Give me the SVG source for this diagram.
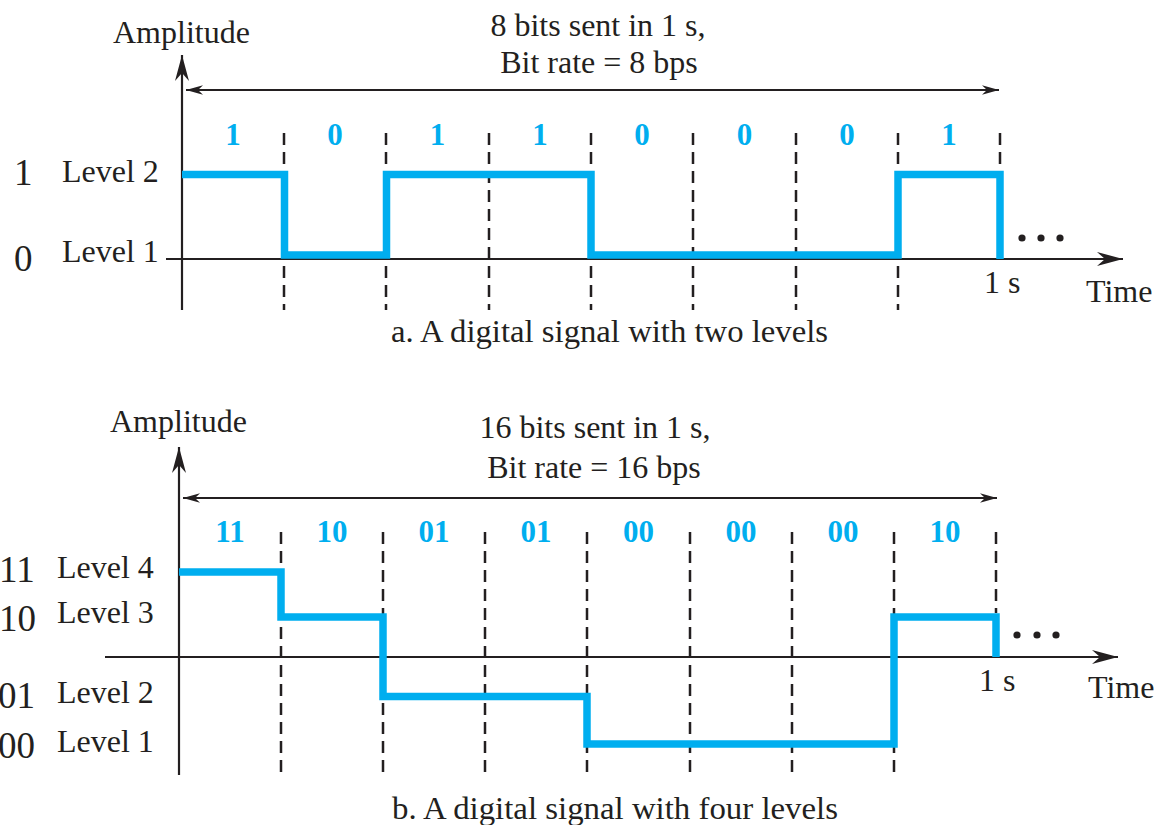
<svg xmlns="http://www.w3.org/2000/svg" width="1157" height="825" viewBox="0 0 1157 825">
<style>
text{font-family:"Liberation Serif","Times New Roman",serif;fill:#231f20;font-size:32px}
.big{font-size:37px}
.bit{font-weight:bold;fill:#00aeef;font-size:31px;text-anchor:middle}
.mid{text-anchor:middle}
.axis{stroke:#231f20;stroke-width:2.2;fill:none}
.span{stroke:#231f20;stroke-width:2;fill:none}
.dash{stroke:#231f20;stroke-width:2.5;stroke-dasharray:12 7;fill:none}
.sig{stroke:#00aeef;stroke-width:7.5;fill:none;stroke-linejoin:miter;stroke-linecap:butt}
.dot{fill:#231f20}
</style>
<defs>
<marker id="axisHead" markerUnits="userSpaceOnUse" markerWidth="30" markerHeight="18" viewBox="-27 -9 30 18" refX="0" refY="0" orient="auto">
<path d="M0,0 L-26,-7 L-18,0 L-26,7 Z" fill="#231f20"/>
</marker>
<marker id="spanHead" markerUnits="userSpaceOnUse" markerWidth="22" markerHeight="12" viewBox="-19 -6 22 12" refX="0" refY="0" orient="auto-start-reverse">
<path d="M0,0 L-17,-4.8 L-12,0 L-17,4.8 Z" fill="#231f20"/>
</marker>
</defs>
<rect width="1157" height="825" fill="#ffffff"/>

<!-- Panel a -->
<g id="panel-a">
<g id="a-grid">
<line class="dash" x1="284" y1="133" x2="284" y2="310"/>
<line class="dash" x1="386" y1="133" x2="386" y2="310"/>
<line class="dash" x1="489" y1="133" x2="489" y2="310"/>
<line class="dash" x1="591" y1="133" x2="591" y2="310"/>
<line class="dash" x1="693" y1="133" x2="693" y2="310"/>
<line class="dash" x1="796" y1="133" x2="796" y2="310"/>
<line class="dash" x1="898" y1="133" x2="898" y2="310"/>
<line class="dash" x1="1000" y1="133" x2="1000" y2="171"/>
</g>
<g id="a-axes">
<line class="axis" x1="182" y1="310" x2="182" y2="55" marker-end="url(#axisHead)"/>
<line class="axis" x1="166" y1="259" x2="1123" y2="259" marker-end="url(#axisHead)"/>
</g>
<g id="a-signal">
<polyline class="sig" points="182,174.5 284.5,174.5 284.5,255 386.5,255 386.5,174.5 591,174.5 591,255 898,255 898,174.5 1000,174.5 1000,259"/>
</g>
<g id="a-bits">
<text class="bit" x="233" y="145">1</text>
<text class="bit" x="335" y="145">0</text>
<text class="bit" x="437.5" y="145">1</text>
<text class="bit" x="540" y="145">1</text>
<text class="bit" x="642" y="145">0</text>
<text class="bit" x="744.5" y="145">0</text>
<text class="bit" x="847" y="145">0</text>
<text class="bit" x="949" y="145">1</text>
</g>
<g id="a-labels">
<text x="113" y="43">Amplitude</text>
<text class="mid" x="598" y="36">8 bits sent in 1 s,</text>
<text class="mid" x="599" y="73">Bit rate = 8 bps</text>
<text class="big" x="14" y="185">1</text>
<text x="62" y="182">Level 2</text>
<text class="big" x="14" y="271">0</text>
<text x="62" y="262">Level 1</text>
<text x="984" y="293">1 s</text>
<text x="1086" y="302">Time</text>
<text x="391" y="342" textLength="437" lengthAdjust="spacingAndGlyphs">a. A digital signal with two levels</text>
</g>
<g id="a-dots">
<circle class="dot" cx="1022" cy="238" r="3.6"/>
<circle class="dot" cx="1041" cy="238" r="3.6"/>
<circle class="dot" cx="1060" cy="238" r="3.6"/>
</g>
</g>

<!-- Panel b -->
<g id="panel-b">
<g id="b-grid">
<line class="dash" x1="281" y1="532" x2="281" y2="775"/>
<line class="dash" x1="383" y1="532" x2="383" y2="775"/>
<line class="dash" x1="485" y1="532" x2="485" y2="775"/>
<line class="dash" x1="587" y1="532" x2="587" y2="775"/>
<line class="dash" x1="690" y1="532" x2="690" y2="775"/>
<line class="dash" x1="792" y1="532" x2="792" y2="775"/>
<line class="dash" x1="894" y1="532" x2="894" y2="775"/>
<line class="dash" x1="996" y1="532" x2="996" y2="613"/>
</g>
<g id="b-axes">
<line class="axis" x1="179" y1="775" x2="179" y2="447" marker-end="url(#axisHead)"/>
<line class="axis" x1="105" y1="657" x2="1118" y2="657" marker-end="url(#axisHead)"/>
</g>
<g id="b-signal">
<polyline class="sig" points="179,572 281,572 281,617 383,617 383,696.5 587,696.5 587,744 894,744 894,617 996,617 996,657"/>
</g>
<g id="b-bits">
<text class="bit" x="230" y="542">11</text>
<text class="bit" x="332" y="542">10</text>
<text class="bit" x="434" y="542">01</text>
<text class="bit" x="536" y="542">01</text>
<text class="bit" x="638.5" y="542">00</text>
<text class="bit" x="741" y="542">00</text>
<text class="bit" x="843" y="542">00</text>
<text class="bit" x="945" y="542">10</text>
</g>
<g id="b-labels">
<text x="110" y="432">Amplitude</text>
<text class="mid" x="595" y="438">16 bits sent in 1 s,</text>
<text class="mid" x="594" y="478">Bit rate = 16 bps</text>
<text class="big" x="-1" y="582">11</text>
<text x="57" y="578">Level 4</text>
<text class="big" x="-1" y="631">10</text>
<text x="57" y="623">Level 3</text>
<text class="big" x="-2" y="708">01</text>
<text x="57" y="703">Level 2</text>
<text class="big" x="-2" y="758">00</text>
<text x="57" y="752">Level 1</text>
<text x="979" y="691">1 s</text>
<text x="1088" y="698">Time</text>
<text x="392" y="819" textLength="446" lengthAdjust="spacingAndGlyphs">b. A digital signal with four levels</text>
</g>
<g id="b-dots">
<circle class="dot" cx="1017" cy="635" r="3.6"/>
<circle class="dot" cx="1037" cy="635" r="3.6"/>
<circle class="dot" cx="1056" cy="635" r="3.6"/>
</g>
</g>

<g id="connectors">
<line class="span" x1="186" y1="90" x2="999" y2="90" marker-start="url(#spanHead)" marker-end="url(#spanHead)"/>
<line class="span" x1="183" y1="498" x2="997" y2="498" marker-start="url(#spanHead)" marker-end="url(#spanHead)"/>
</g>
</svg>
